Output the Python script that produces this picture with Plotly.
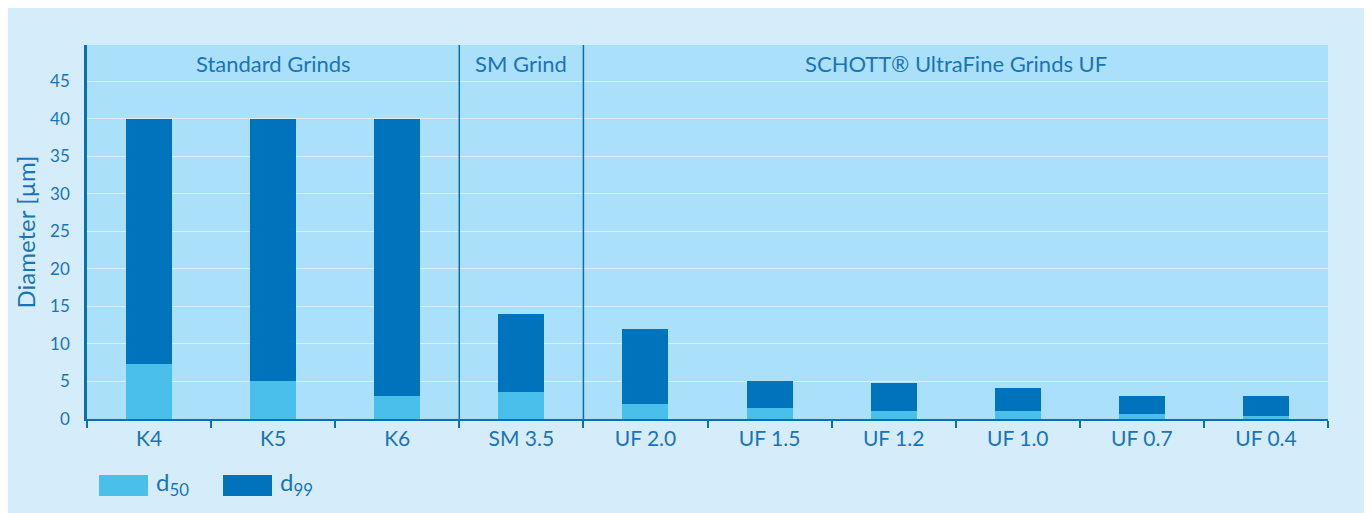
import plotly.graph_objects as go

# ---- data ----
categories = ["K4", "K5", "K6", "SM 3.5", "UF 2.0", "UF 1.5", "UF 1.2", "UF 1.0", "UF 0.7", "UF 0.4"]
d50 = [7.3, 5.0, 3.1, 3.6, 2.0, 1.5, 1.1, 1.0, 0.6, 0.4]
d99 = [40.0, 40.0, 40.0, 14.0, 12.0, 5.0, 4.8, 4.1, 3.0, 3.0]
group_labels = ["Standard Grinds", "SM Grind", "SCHOTT® UltraFine Grinds UF"]
group_centers = [1, 3, 6.5]
group_dividers = [2.5, 3.5]
y_ticks = [0, 5, 10, 15, 20, 25, 30, 35, 40, 45]

# ---- styling ----
OFF = 8  # page body margin
W, H = 1372, 513
L, T = 87 - OFF, 45 - OFF
R = W - (1328 - OFF)
B = H - (419 - OFF)
PW, PH = W - L - R, H - T - B
PANEL = "#d5edfa"
PLOT_BG = "#abe0fa"
LIGHT = "#4bbfec"
DARK = "#0073bd"
TXT = "#1a74b8"
AX = "#0b6fb2"
FONT = "Lato"


def px(x):
    return (x - OFF - L) / PW


def py(y):
    return (H - B - (y - OFF)) / PH


fig = go.Figure()
fig.add_trace(go.Bar(x=categories, y=d99, marker=dict(color=DARK, line=dict(width=0)),
                     width=0.37, name="d99", showlegend=False))
fig.add_trace(go.Bar(x=categories, y=d50, marker=dict(color=LIGHT, line=dict(width=0)),
                     width=0.37, name="d50", showlegend=False))

shapes = []
for d in group_dividers:
    shapes.append(dict(type="line", xref="x", yref="paper", x0=d, x1=d, y0=0, y1=1,
                       line=dict(color=AX, width=1.5)))
shapes.append(dict(type="rect", xref="paper", yref="paper", x0=px(99), x1=px(148), y0=py(496), y1=py(475),
                   fillcolor=LIGHT, line=dict(width=0)))
shapes.append(dict(type="rect", xref="paper", yref="paper", x0=px(223), x1=px(272), y0=py(496), y1=py(475),
                   fillcolor=DARK, line=dict(width=0)))

annotations = []
for lab, c in zip(group_labels, group_centers):
    annotations.append(dict(x=c, xref="x", y=py(64), yref="paper", text=lab, showarrow=False,
                            font=dict(family=FONT, size=22, color=TXT), xanchor="center", yanchor="middle"))
annotations.append(dict(x=px(154), xref="paper", y=py(483), yref="paper", text="d<sub>50</sub>",
                        showarrow=False, xanchor="left", yanchor="middle",
                        font=dict(family=FONT, size=24, color=TXT)))
annotations.append(dict(x=px(278), xref="paper", y=py(483), yref="paper", text="d<sub>99</sub>",
                        showarrow=False, xanchor="left", yanchor="middle",
                        font=dict(family=FONT, size=24, color=TXT)))

fig.update_layout(
    width=W, height=H,
    margin=dict(l=L, r=R, t=T, b=B, pad=0),
    paper_bgcolor=PANEL, plot_bgcolor=PLOT_BG,
    barmode="overlay", bargap=0,
    showlegend=False,
    shapes=shapes, annotations=annotations,
    font=dict(family=FONT, color=TXT),
    xaxis=dict(type="category", categoryorder="array", categoryarray=categories,
               showline=True, linecolor=AX, linewidth=2,
               ticks="outside", tickson="boundaries", ticklen=7, tickwidth=1.5, tickcolor=AX,
               tickfont=dict(family=FONT, size=21, color=TXT), showgrid=False,
               range=[-0.5, len(categories) - 0.5]),
    yaxis=dict(range=[0, 49.8], tickvals=y_ticks, showline=True, linecolor=AX, linewidth=2.5,
               ticks="", ticklabelstandoff=11,
               tickfont=dict(family=FONT, size=17, color=TXT),
               showgrid=True, gridcolor="#d4f0fd", gridwidth=1.2, zeroline=False,
               title=dict(text="Diameter [µm]", font=dict(family=FONT, size=24, color=TXT), standoff=8)),
)

fig.write_html("out.html")
